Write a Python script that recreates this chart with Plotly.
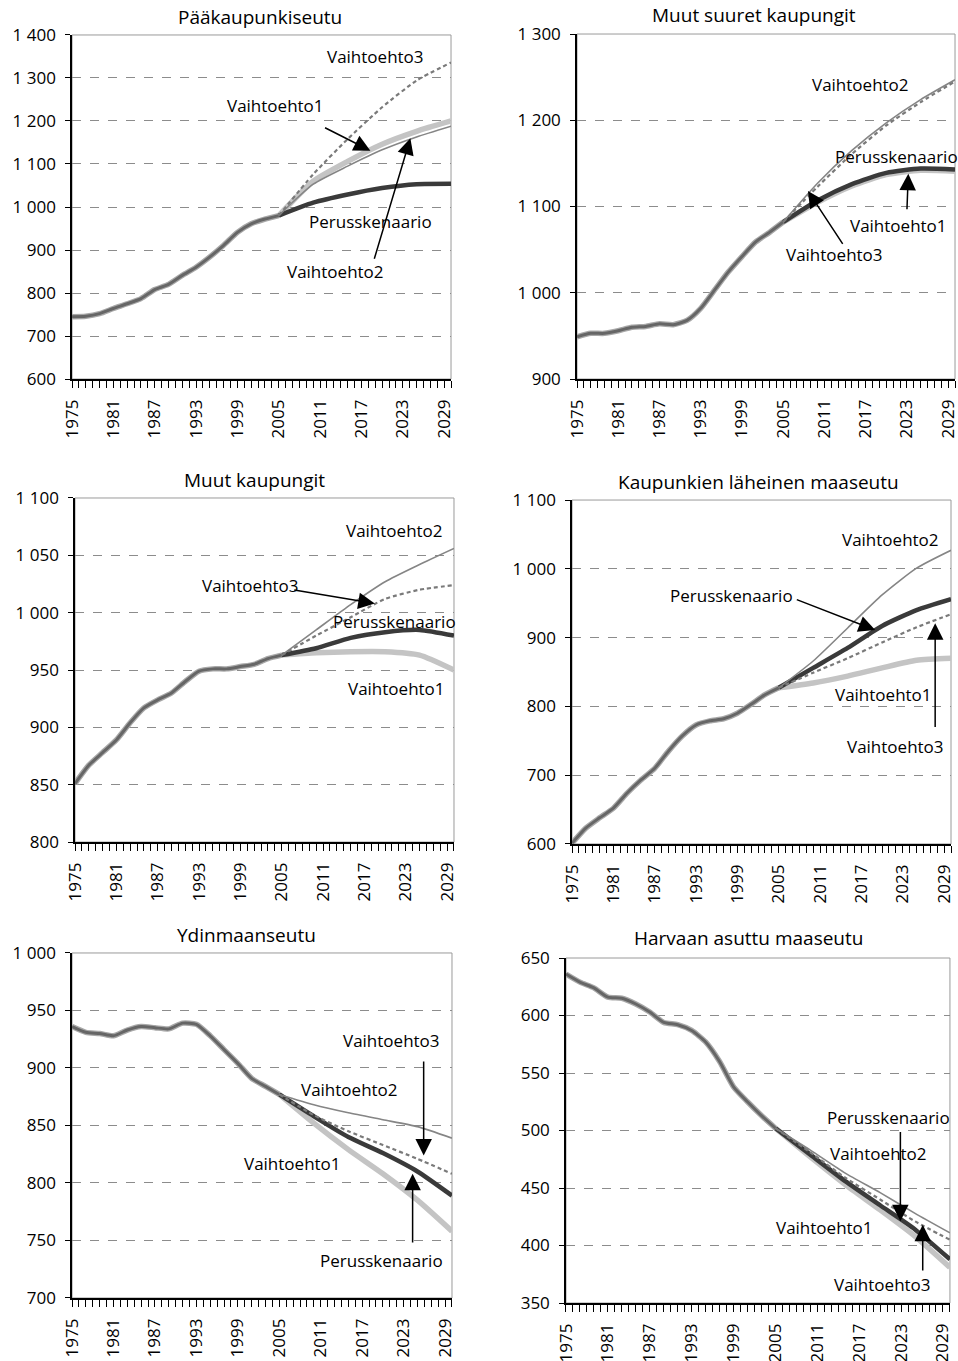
import plotly.graph_objects as go
from plotly.subplots import make_subplots

HIST_YEARS = list(range(1975, 2006, 2))
PROJ_YEARS = [2005, 2010, 2015, 2020, 2025, 2030]
TICK_YEARS = list(range(1975, 2030, 6))

# Pääkaupunkiseutu
pk_hist = [745, 746, 752, 764, 775, 787, 808, 820, 841, 860, 884, 911, 941, 961, 972, 980]
pk_perus = [980, 1010, 1029, 1044, 1053, 1054]
pk_v1 = [980, 1060, 1106, 1146, 1176, 1200]
pk_v2 = [980, 1053, 1095, 1133, 1163, 1188]
pk_v3 = [980, 1076, 1158, 1232, 1294, 1336]

# Muut suuret kaupungit
ms_hist = [949, 953, 953, 956, 960, 961, 964, 963, 968, 982, 1003, 1024, 1042, 1059, 1070, 1082]
ms_perus = [1082, 1107, 1126, 1139, 1144, 1143]
ms_v1 = [1082, 1105, 1124, 1137, 1142, 1141]
ms_v2 = [1082, 1127, 1165, 1197, 1224, 1247]
ms_v3 = [1082, 1123, 1161, 1194, 1221, 1245]

# Muut kaupungit
mk_hist = [851, 867, 878, 889, 904, 917, 924, 930, 940, 949, 951, 951, 953, 955, 960, 963]
mk_perus = [963, 969, 978, 983, 985, 980]
mk_v1 = [963, 965, 966, 966, 963, 950]
mk_v2 = [963, 985, 1007, 1027, 1042, 1056]
mk_v3 = [963, 980, 996, 1012, 1020, 1024]

# Kaupunkien läheinen maaseutu
kl_hist = [601, 623, 638, 652, 674, 693, 710, 735, 757, 773, 779, 782, 790, 803, 817, 827]
kl_perus = [827, 856, 885, 917, 940, 956]
kl_v1 = [827, 834, 844, 856, 867, 870]
kl_v2 = [827, 866, 914, 962, 1001, 1027]
kl_v3 = [827, 849, 870, 893, 915, 934]

# Ydinmaanseutu
yd_hist = [936, 931, 930, 928, 933, 936, 935, 934, 939, 938, 928, 916, 904, 891, 884, 877]
yd_perus = [877, 858, 840, 826, 810, 789]
yd_v1 = [877, 852, 829, 808, 785, 758]
yd_v2 = [877, 868, 861, 855, 849, 839]
yd_v3 = [877, 859, 845, 833, 821, 808]

# Harvaan asuttu maaseutu
hv_hist = [636, 629, 624, 616, 615, 610, 603, 594, 592, 587, 577, 560, 538, 525, 513, 502]
hv_perus = [502, 479, 456, 435, 414, 388]
hv_v1 = [502, 477, 453, 431, 408, 381]
hv_v2 = [502, 483, 463, 446, 428, 411]
hv_v3 = [502, 481, 459, 440, 421, 405]

titles = ["Pääkaupunkiseutu", "Muut suuret kaupungit", "Muut kaupungit",
          "Kaupunkien läheinen maaseutu", "Ydinmaanseutu", "Harvaan asuttu maaseutu"]
y_ranges = [(600, 1400, 100), (900, 1300, 100), (800, 1100, 50),
            (600, 1100, 100), (700, 1000, 50), (350, 650, 50)]
regions = [
    (pk_hist, pk_perus, pk_v1, pk_v2, pk_v3),
    (ms_hist, ms_perus, ms_v1, ms_v2, ms_v3),
    (mk_hist, mk_perus, mk_v1, mk_v2, mk_v3),
    (kl_hist, kl_perus, kl_v1, kl_v2, kl_v3),
    (yd_hist, yd_perus, yd_v1, yd_v2, yd_v3),
    (hv_hist, hv_perus, hv_v1, hv_v2, hv_v3),
]

# label text, text pos (year, value), arrow tail, arrow head
labels = [
    [("Vaihtoehto3", 2019.0, 1351, None, None),
     ("Vaihtoehto1", 2004.5, 1235, (2011.5, 1186), (2018.3, 1131)),
     ("Perusskenaario", 2018.3, 966, None, None),
     ("Vaihtoehto2", 2013.2, 851, (2018.8, 876), (2024.1, 1160))],
    [("Vaihtoehto2", 2016.2, 1241, None, None),
     ("Perusskenaario", 2021.5, 1158, None, None),
     ("Vaihtoehto1", 2021.8, 1078, (2023.0, 1095), (2023.2, 1138)),
     ("Vaihtoehto3", 2012.5, 1044, (2013.8, 1055), (2008.6, 1118))],
    [("Vaihtoehto2", 2021.4, 1072, None, None),
     ("Vaihtoehto3", 2000.4, 1024, (2006.6, 1020), (2018.5, 1008)),
     ("Perusskenaario", 2021.4, 992, None, None),
     ("Vaihtoehto1", 2021.6, 934, None, None)],
    [("Vaihtoehto2", 2021.2, 1042, None, None),
     ("Perusskenaario", 1998.2, 961, (2007.4, 956), (2019.0, 911)),
     ("Vaihtoehto1", 2020.2, 817, None, None),
     ("Vaihtoehto3", 2021.9, 742, (2027.7, 768), (2027.7, 921))],
    [("Vaihtoehto3", 2021.2, 924, (2025.9, 907), (2025.9, 824)),
     ("Vaihtoehto2", 2015.2, 881, None, None),
     ("Vaihtoehto1", 2006.9, 817, None, None),
     ("Perusskenaario", 2019.8, 733, (2024.3, 747), (2024.3, 808))],
    [("Perusskenaario", 2021.2, 511, (2022.9, 500), (2022.9, 421)),
     ("Vaihtoehto2", 2019.7, 480, None, None),
     ("Vaihtoehto1", 2012.1, 416, None, None),
     ("Vaihtoehto3", 2020.4, 366, (2026.1, 377), (2026.1, 418))],
]

x_domains = [(0.0752, 0.4708), (0.6023, 0.9969), (0.0783, 0.4739),
             (0.5971, 0.9927), (0.0752, 0.4718), (0.5908, 0.9916)]
y_domains = [(0.7215, 0.9743), (0.7215, 0.9750), (0.3813, 0.6341),
             (0.3799, 0.6326), (0.0463, 0.2998), (0.0426, 0.2961)]
title_pos = [(260, 17), (754, 15), (255, 480), (758, 482), (246, 935), (748, 938)]

W, H = 958, 1361
FONT = "Open Sans"

fig = make_subplots(rows=3, cols=2)

for i, (hist, perus, v1, v2, v3) in enumerate(regions):
    r, c = i // 2 + 1, i % 2 + 1
    sm = dict(shape="spline", smoothing=0.6)
    fig.add_trace(go.Scatter(x=PROJ_YEARS, y=v1, mode="lines",
                             line=dict(color="#c4c4c4", width=5.5, **sm)), row=r, col=c)
    fig.add_trace(go.Scatter(x=PROJ_YEARS, y=perus, mode="lines",
                             line=dict(color="#3a3a3a", width=4.5, **sm)), row=r, col=c)
    fig.add_trace(go.Scatter(x=PROJ_YEARS, y=v2, mode="lines",
                             line=dict(color="#858585", width=1.6, **sm)), row=r, col=c)
    fig.add_trace(go.Scatter(x=PROJ_YEARS, y=v3, mode="lines",
                             line=dict(color="#7a7a7a", width=2.2, dash="4px,3px", **sm)), row=r, col=c)
    fig.add_trace(go.Scatter(x=HIST_YEARS, y=hist, mode="lines",
                             line=dict(color="#a8a8a8", width=5.5, **sm)), row=r, col=c)
    fig.add_trace(go.Scatter(x=HIST_YEARS, y=hist, mode="lines",
                             line=dict(color="#666666", width=3, **sm)), row=r, col=c)

    lo, hi, step = y_ranges[i]
    yt = list(range(lo, hi + 1, step))
    fig.update_yaxes(range=[lo, hi], tickvals=yt,
                     ticktext=[f"{v:,}".replace(",", " ") for v in yt],
                     showgrid=True, gridcolor="#8c8c8c", griddash="dash", gridwidth=1,
                     showline=True, linecolor="black", linewidth=1.5,
                     ticks="outside", ticklen=5, tickcolor="black", ticklabelstandoff=6,
                     tickfont=dict(family=FONT, size=17, color="black"),
                     zeroline=False, automargin=False, domain=y_domains[i], row=r, col=c)
    fig.update_xaxes(range=[1975, 2030], tickvals=TICK_YEARS, tickangle=-90,
                     showgrid=False, showline=True, linecolor="black", linewidth=1.5,
                     ticks="outside", ticklen=7, tickcolor="black", ticklabelstandoff=5,
                     ticklabeloverflow="allow",
                     minor=dict(tick0=1975, dtick=1, ticks="outside", ticklen=7,
                                tickcolor="black", showgrid=False),
                     tickfont=dict(family=FONT, size=17, color="black"),
                     zeroline=False, automargin=False, domain=x_domains[i], row=r, col=c)

    xref = "x" if i == 0 else f"x{i + 1}"
    yref = "y" if i == 0 else f"y{i + 1}"
    fig.add_shape(type="rect", xref=f"{xref} domain", yref=f"{yref} domain",
                  x0=0, x1=1, y0=0, y1=1, line=dict(color="#9a9a9a", width=1), layer="below")

    for text, tx, ty, tail, head in labels[i]:
        fig.add_annotation(x=tx, y=ty, xref=xref, yref=yref, text=text, showarrow=False,
                           font=dict(family=FONT, size=17, color="black"))
        if tail is not None:
            fig.add_annotation(x=head[0], y=head[1], ax=tail[0], ay=tail[1],
                               xref=xref, yref=yref, axref=xref, ayref=yref, text="",
                               showarrow=True, arrowhead=2, arrowsize=2.2, arrowwidth=1.5,
                               arrowcolor="black", standoff=0, startstandoff=0)

    px_, py_ = title_pos[i]
    fig.add_annotation(x=px_ / W, y=1 - py_ / H, xref="paper", yref="paper",
                       text=titles[i], showarrow=False, xanchor="center", yanchor="middle",
                       font=dict(family=FONT, size=19, color="black"))

fig.update_layout(width=W, height=H, margin=dict(l=0, r=0, t=0, b=0),
                  plot_bgcolor="white", paper_bgcolor="white", showlegend=False,
                  font=dict(family=FONT, color="black"))

fig.write_html("out.html", config={"displayModeBar": False},
               post_script="document.body.style.margin='0';document.body.style.overflow='hidden';")
